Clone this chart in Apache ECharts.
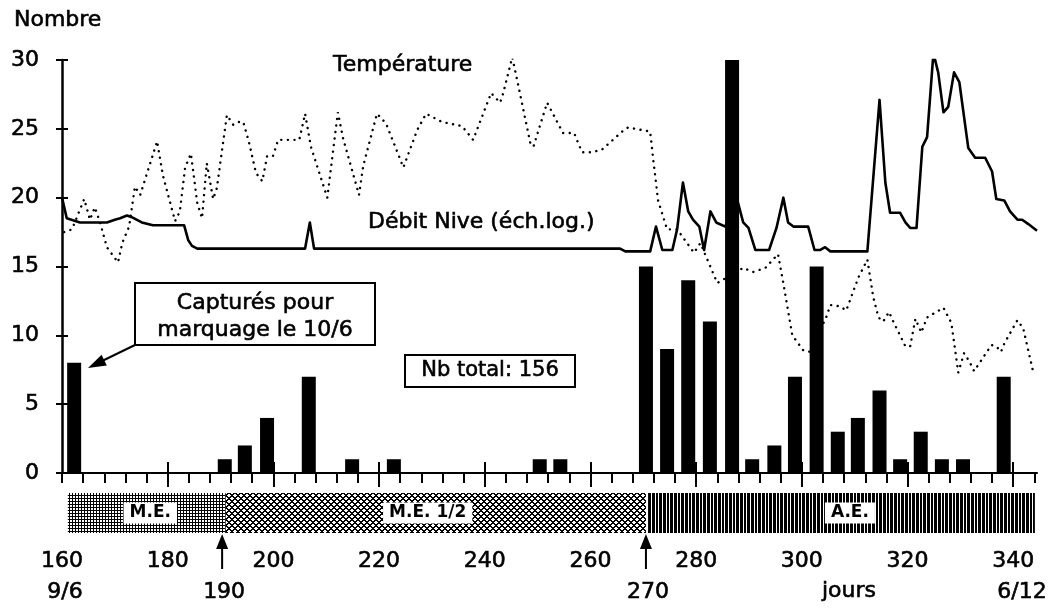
<!DOCTYPE html>
<html><head><meta charset="utf-8">
<script src="https://cdn.jsdelivr.net/npm/echarts@6/dist/echarts.min.js"></script>
<style>html,body{margin:0;padding:0;background:#fff}#c{width:1063px;height:609px}</style>
</head><body><div id="c"></div>
<script>
// ---------- DATA ----------
const barDays   = [162.3,190.8,194.6,198.8,206.7,214.9,222.8,250.4,254.3,270.5,274.5,278.5,282.6,286.8,290.6,294.8,298.7,302.8,306.8,310.6,314.7,318.6,322.5,326.5,330.5,338.2];
const barCounts = [8,1,2,4,7,1,1,1,1,15,9,14,11,30,1,2,7,15,3,4,6,1,3,1,1,7];

const tempDays = [160.4,161.9,164.2,165.3,166.2,167.2,168.5,170.6,171.4,172.7,173.8,174.8,178.0,179.1,181.4,182.3,183.3,184.4,185.6,186.5,187.4,188.6,189.3,191.2,192.4,193.3,194.3,195.4,196.7,197.9,198.8,199.9,200.9,204.9,206.0,207.1,210.2,212.2,213.2,216.2,217.0,219.6,221.3,224.6,227.2,228.9,231.9,235.7,237.8,239.5,241.2,242.9,243.5,245.2,246.1,248.6,249.2,251.8,254.8,256.9,258.4,260.3,262.2,266.0,267.1,271.3,271.9,272.8,274.5,276.4,279.6,280.8,284.0,288.9,290.8,293.1,295.5,296.5,298.2,300.3,301.6,304.6,305.4,307.3,308.4,310.7,312.4,313.5,314.5,315.4,316.5,317.3,319.6,320.5,321.5,322.6,323.7,326.8,328.3,329.6,330.7,331.7,332.6,334.5,335.9,336.8,337.7,338.3,340.8,341.9,343.8];
const tempValues = [17.5,17.7,19.9,18.4,19.3,18.2,16.4,15.3,16.7,17.9,20.8,20.2,24.1,21.6,18.3,19.0,22.2,23.2,19.6,18.5,22.5,19.9,20.7,26.0,25.3,25.5,25.5,24.0,21.8,21.2,23.0,23.0,24.2,24.2,26.1,23.7,20.0,26.2,24.3,20.2,22.3,26.1,25.4,22.2,24.9,26.1,25.5,25.2,24.2,25.9,27.6,26.9,27.6,30.2,28.6,24.0,23.7,26.9,24.7,24.7,23.3,23.3,23.5,24.8,25.1,24.8,22.7,19.8,17.7,17.7,16.0,16.7,13.8,14.9,14.6,14.9,15.9,13.8,10.0,8.9,8.8,11.3,12.2,12.1,11.8,14.2,15.5,12.8,11.3,11.0,11.7,11.0,9.2,9.2,11.2,10.2,11.3,12.0,10.9,7.3,8.7,8.1,7.4,8.5,9.3,9.2,8.8,9.4,11.1,10.5,7.3];

const debitDays = [160.0,160.9,163.4,168.5,170.0,171.0,172.3,173.1,175.1,177.2,183.1,183.9,184.6,185.6,206.0,206.9,207.7,265.6,266.6,271.3,272.4,273.6,275.5,276.4,277.5,278.5,279.4,280.6,281.5,282.7,283.8,285.5,287.8,288.9,289.9,291.2,293.8,295.2,296.5,297.4,298.4,301.2,302.4,303.5,304.4,305.4,312.4,314.7,315.8,316.7,318.6,319.6,320.5,321.7,322.8,323.7,324.9,325.8,326.8,327.7,328.8,329.8,331.5,332.8,334.7,336.0,336.8,338.3,339.4,340.8,341.7,342.8,344.5];
const debitValues = [20.0,18.5,18.2,18.2,18.4,18.5,18.7,18.6,18.2,18.0,18.0,16.9,16.5,16.3,16.3,18.2,16.3,16.3,16.1,16.1,17.9,16.2,16.2,17.7,21.1,19.0,18.4,17.9,16.2,19.0,18.2,17.9,19.8,18.2,17.8,16.2,16.2,17.8,20.0,18.2,17.9,17.9,16.2,16.2,16.4,16.1,16.1,27.1,21.1,18.9,18.9,18.2,17.8,17.8,23.7,24.4,30.5,29.1,26.2,26.6,29.1,28.4,23.6,22.9,22.9,21.9,19.9,19.8,19.0,18.4,18.4,18.1,17.6];

const xTickLabels = [160,180,200,220,240,260,280,300,320,340];
const xMinorTicks = [160,164,168,172,176,180,184,188,192,196,200,204,208,212,216,220,224,228,232,236,240,244,248,252,256,260,264,268,272,276,280,284,288,292,296,300,304,308,312,316,320,324,328,332,336,340,344];
const xMajorTicks = [180,200,220,240,260,280,300,320,340];

const periodStarts = [161.1,191.0,270.9];
const periodEnds   = [191.0,270.5,344.1];
const periodLabels = ['M.E.','M.E. 1/2','A.E.'];
const periodLabelDays = [176.7,229.2,309.1];

const arrowDays   = [190.3,270.5];
const arrowLabels = ['190','270'];

// ---------- STYLE ----------
const FONT = '"DejaVu Sans", Verdana, sans-serif';
const TB = 0.6; // text emboldening stroke
function makePattern(w,h,fn){
  const c=document.createElement('canvas'); c.width=w; c.height=h;
  const ctx=c.getContext('2d'); ctx.fillStyle='#fff'; ctx.fillRect(0,0,w,h); ctx.fillStyle='#000';
  for(let y=0;y<h;y++) for(let x=0;x<w;x++) if(fn(x,y)) ctx.fillRect(x,y,1,1);
  return c;
}
const patterns = [
  makePattern(3,3,(x,y)=>x===0||y===0),
  makePattern(6,6,(x,y)=>((x+y)%6<2)||((((x-y)%6)+6)%6<2)),
  makePattern(11,1,(x)=>![2,6,9].includes(x))
];
function txt(x,y,text,size,extra){
  return Object.assign({type:'text',x:x,y:y,z:21,style:{text:text,font:size+'px '+FONT,fill:'#000',stroke:'#000',lineWidth:TB,
    align:'center',verticalAlign:'middle',textAlign:'center',textVerticalAlign:'middle'}},extra||{});
}

const chart = echarts.init(document.getElementById('c'));
const XMIN=160, XMAX=344.5;
const zip=(a,b)=>a.map((v,i)=>[v,b[i]]);
const labelStyle={fontSize:22,fontFamily:FONT,color:'#000',textBorderColor:'#000',textBorderWidth:TB};

const option = {
  animation:false,
  backgroundColor:'#fff',
  grid:[{left:62,right:26,top:60,bottom:136},{left:62,right:26,top:493,height:40}],
  xAxis:[
    {gridIndex:0,type:'value',min:XMIN,max:XMAX,position:'bottom',
     axisLine:{show:true,lineStyle:{color:'#000',width:2}},
     axisTick:{show:true,customValues:xMinorTicks,length:10,lineStyle:{color:'#000',width:2}},
     axisLabel:{show:false},splitLine:{show:false}},
    {gridIndex:0,type:'value',min:XMIN,max:XMAX,position:'bottom',
     axisLine:{show:false},
     axisTick:{show:true,inside:true,customValues:xMajorTicks,length:11,lineStyle:{color:'#000',width:2}},
     axisLabel:{show:false},splitLine:{show:false}},
    {gridIndex:0,type:'value',min:XMIN,max:XMAX,position:'bottom',
     axisLine:{show:false},
     axisTick:{show:true,customValues:xMajorTicks,length:14,lineStyle:{color:'#000',width:2}},
     axisLabel:Object.assign({show:true,customValues:xTickLabels,margin:77},labelStyle),
     splitLine:{show:false}},
    {gridIndex:1,type:'value',min:XMIN,max:XMAX,show:false}
  ],
  yAxis:[
    {gridIndex:0,type:'value',min:0,max:30,interval:5,position:'left',
     axisLine:{show:true,lineStyle:{color:'#000',width:2.5}},
     axisTick:{show:true,length:6,lineStyle:{color:'#000',width:2}},
     axisLabel:Object.assign({show:true,margin:23},labelStyle),
     splitLine:{show:false}},
    {gridIndex:0,type:'value',min:0,max:30,interval:5,position:'left',
     axisLine:{show:false},
     axisTick:{show:true,inside:true,length:6,lineStyle:{color:'#000',width:2}},
     axisLabel:{show:false},splitLine:{show:false}},
    {gridIndex:1,type:'value',min:0,max:1,show:false}
  ],
  series:[
    {type:'line',name:'Température',xAxisIndex:0,yAxisIndex:0,data:zip(tempDays,tempValues),
     showSymbol:false,symbol:'none',z:2,
     lineStyle:{color:'#000',width:2.4,type:[0.1,6.5],cap:'round'}},
    {type:'line',name:'Débit',xAxisIndex:0,yAxisIndex:0,data:zip(debitDays,debitValues),
     showSymbol:false,symbol:'none',z:3,
     lineStyle:{color:'#000',width:2.6,join:'round'}},
    {type:'bar',name:'Nombre',xAxisIndex:0,yAxisIndex:0,data:zip(barDays,barCounts),
     barWidth:14,z:5,itemStyle:{color:'#000'}},
    {type:'custom',xAxisIndex:3,yAxisIndex:2,z:4,
     data:periodStarts.map((s,i)=>[s,periodEnds[i],i,periodLabelDays[i]]),
     renderItem:function(params,api){
       const i=api.value(2);
       const p0=api.coord([api.value(0),1]), p1=api.coord([api.value(1),0]);
       const lx=api.coord([api.value(3),0.5]);
       return {type:'group',children:[
         {type:'rect',shape:{x:p0[0],y:p0[1],width:p1[0]-p0[0],height:p1[1]-p0[1]},
          style:{fill:{image:patterns[i],repeat:'repeat'},stroke:null}},
         {type:'text',z2:10,style:{text:periodLabels[i],x:lx[0],y:lx[1],
          align:'center',verticalAlign:'middle',textAlign:'center',textVerticalAlign:'middle',
          font:'bold 17px '+FONT,fill:'#000',backgroundColor:'#fff',padding:[2,6,2,6]}}
       ]};
     }},
    {type:'custom',xAxisIndex:3,yAxisIndex:2,z:4,
     data:arrowDays.map((d,i)=>[d,i]),
     renderItem:function(params,api){
       const p=api.coord([api.value(0),0]);
       const x=p[0], y=p[1];
       return {type:'group',children:[
         {type:'polygon',shape:{points:[[x,y+1],[x-6,y+16],[x+6,y+16]]},style:{fill:'#000'}},
         {type:'line',shape:{x1:x,y1:y+12,x2:x,y2:y+36},style:{stroke:'#000',lineWidth:2}},
         {type:'text',style:{text:arrowLabels[api.value(1)],x:x+2,y:y+59,
           align:'center',verticalAlign:'middle',textAlign:'center',textVerticalAlign:'middle',
           font:'22px '+FONT,fill:'#000',stroke:'#000',lineWidth:TB}}
       ]};
     }}
  ],
  graphic:[
    txt(14,20,'Nombre',22,{style:{text:'Nombre',font:'22px '+FONT,fill:'#000',stroke:'#000',lineWidth:TB,align:'left',verticalAlign:'middle',textAlign:'left',textVerticalAlign:'middle'}}),
    txt(333,65,'Température',22,{style:{text:'Température',font:'22px '+FONT,fill:'#000',stroke:'#000',lineWidth:TB,align:'left',verticalAlign:'middle',textAlign:'left',textVerticalAlign:'middle'}}),
    txt(368,222,'Débit Nive (éch.log.)',22,{style:{text:'Débit Nive (éch.log.)',font:'22px '+FONT,fill:'#000',stroke:'#000',lineWidth:TB,align:'left',verticalAlign:'middle',textAlign:'left',textVerticalAlign:'middle'}}),
    {type:'rect',shape:{x:135,y:283,width:240,height:62},style:{fill:'#fff',stroke:'#000',lineWidth:2},z:20},
    txt(255,303,'Capturés pour',22),
    txt(255,330,'marquage le 10/6',22),
    {type:'line',shape:{x1:135,y1:345,x2:100,y2:362},style:{stroke:'#000',lineWidth:2},z:20},
    {type:'polygon',shape:{points:[[88,368],[106.8,365.5],[101.6,354.7]]},style:{fill:'#000'},z:20},
    {type:'rect',shape:{x:405,y:355,width:170,height:32},style:{fill:'#fff',stroke:'#000',lineWidth:2},z:20},
    txt(490,371,'Nb total: 156',21),
    txt(65,592,'9/6',22),
    txt(849,591,'jours',22),
    txt(1022,592,'6/12',22)
  ]
};
chart.setOption(option);
</script></body></html>
